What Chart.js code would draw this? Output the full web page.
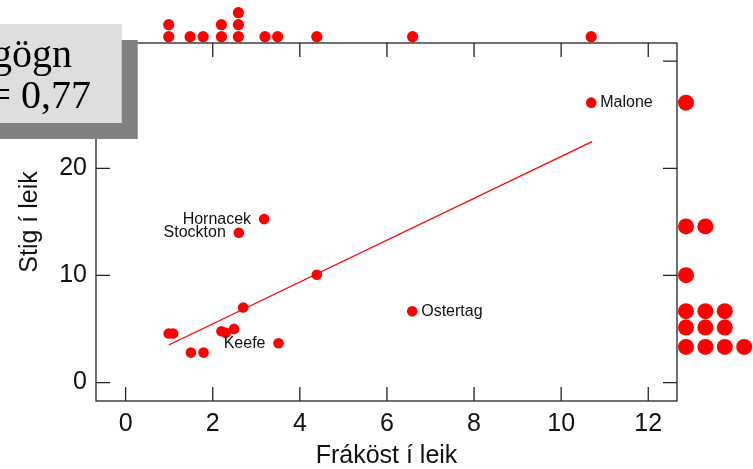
<!DOCTYPE html>
<html>
<head>
<meta charset="utf-8">
<script src="https://cdn.jsdelivr.net/npm/chart.js@4.4.0/dist/chart.umd.min.js"></script>
<style>
  html, body { margin: 0; padding: 0; background: #fff; }
  canvas { display: block; }
</style>
</head>
<body>
<canvas id="chart" width="753" height="469"></canvas>
<script>
// scatter values
const reboundsPerGame = [10.69, 3.18, 2.60, 4.39, 2.70, 6.58, 0.99, 1.09, 2.20, 2.30, 2.49, 3.51, 1.50, 1.79];
const pointsPerGame   = [26.13, 15.26, 13.98, 10.06, 7.01, 6.66, 4.58, 4.58, 4.79, 4.64, 5.01, 3.67, 2.80, 2.80];
const playerNames     = ['Malone', 'Hornacek', 'Stockton', '', '', 'Ostertag', '', '', '', '', '', 'Keefe', '', ''];
const labelOnLeft     = ['Hornacek', 'Stockton', 'Keefe'];

// regression line end points
const fitX = [0.99, 10.71];
const fitY = [3.51, 22.49];

// marginal dot plots (bins and counts)
const topDotX      = [0.99, 1.48, 1.78, 2.20, 2.59, 3.20, 3.49, 4.39, 6.59, 10.69];
const topDotCount  = [2, 1, 1, 2, 3, 1, 1, 1, 1, 1];
const sideDotY     = [26.13, 14.58, 10.03, 6.67, 5.14, 3.33];
const sideDotCount = [1, 2, 1, 3, 3, 4];

const xTicks = [0, 2, 4, 6, 8, 10, 12];
const yTicks = [0, 10, 20, 30];
const legendLines = ['gögn', '= 0,77'];

const sans = '"Liberation Sans", Arial, sans-serif';

const extras = {
    id: 'extras',
    afterDatasetsDraw(chart) {
        const ctx = chart.ctx;
        const xs = chart.scales.x;
        const ys = chart.scales.y;
        const area = chart.chartArea;
        ctx.save();

        // point names
        ctx.font = '16px ' + sans;
        ctx.fillStyle = '#111';
        ctx.textBaseline = 'middle';
        playerNames.forEach((name, i) => {
            if (!name) return;
            const px = xs.getPixelForValue(reboundsPerGame[i]);
            const py = ys.getPixelForValue(pointsPerGame[i]);
            if (labelOnLeft.includes(name)) {
                ctx.textAlign = 'right';
                ctx.fillText(name, px - 13, py);
            } else {
                ctx.textAlign = 'left';
                ctx.fillText(name, px + 9, py);
            }
        });

        // marginal dots
        ctx.fillStyle = '#ff0000';
        topDotX.forEach((v, i) => {
            const px = xs.getPixelForValue(v);
            for (let k = 0; k < topDotCount[i]; k++) {
                ctx.beginPath();
                ctx.arc(px, area.top - 6.3 - k * 12, 5.6, 0, Math.PI * 2);
                ctx.fill();
            }
        });
        sideDotY.forEach((v, i) => {
            const py = ys.getPixelForValue(v);
            for (let k = 0; k < sideDotCount[i]; k++) {
                ctx.beginPath();
                ctx.arc(area.right + 9 + k * 19.4, py, 8, 0, Math.PI * 2);
                ctx.fill();
            }
        });

        // frame with inward ticks on all four sides
        ctx.strokeStyle = '#222';
        ctx.lineWidth = 1.3;
        ctx.strokeRect(area.left, area.top, area.right - area.left, area.bottom - area.top);
        const len = 14;
        ctx.beginPath();
        xTicks.forEach(v => {
            const px = xs.getPixelForValue(v);
            ctx.moveTo(px, area.bottom); ctx.lineTo(px, area.bottom - len);
            ctx.moveTo(px, area.top); ctx.lineTo(px, area.top + len);
        });
        yTicks.forEach(v => {
            const py = ys.getPixelForValue(v);
            ctx.moveTo(area.left, py); ctx.lineTo(area.left + len, py);
            ctx.moveTo(area.right, py); ctx.lineTo(area.right - len, py);
        });
        ctx.stroke();

        // cut-off legend box with shadow
        ctx.fillStyle = '#808080';
        ctx.fillRect(-20, 40, 157.7, 99);
        ctx.fillStyle = '#dedede';
        ctx.fillRect(-20, 24, 141.7, 99);
        ctx.fillStyle = '#000';
        ctx.font = '40px "Liberation Serif", "Times New Roman", serif';
        ctx.textAlign = 'right';
        ctx.textBaseline = 'alphabetic';
        ctx.fillText(legendLines[0], 72, 67);
        ctx.fillText(legendLines[1], 91, 108);

        ctx.restore();
    }
};

function createScatter() {
    const ctx = document.getElementById('chart').getContext('2d');
    return new Chart(ctx, {
        data: {
            datasets: [{
                type: 'scatter',
                data: reboundsPerGame.map((x, i) => ({ x: x, y: pointsPerGame[i] })),
                backgroundColor: '#ff0000',
                borderWidth: 0,
                pointRadius: 5.3,
                pointHoverRadius: 5.3
            }, {
                type: 'line',
                data: fitX.map((x, i) => ({ x: x, y: fitY[i] })),
                borderColor: '#ff0000',
                borderWidth: 1.3,
                pointRadius: 0,
                fill: false
            }]
        },
        options: {
            responsive: false,
            animation: false,
            devicePixelRatio: 1,
            layout: { padding: { top: 43, right: 76, left: 0, bottom: 0 } },
            plugins: { legend: { display: false }, tooltip: { enabled: false } },
            scales: {
                x: {
                    type: 'linear',
                    position: 'bottom',
                    min: -0.68,
                    max: 12.66,
                    afterBuildTicks: s => { s.ticks = xTicks.map(v => ({ value: v })); },
                    afterFit: s => { s.height = 68; },
                    grid: { display: false, drawTicks: false },
                    border: { display: false },
                    ticks: { color: '#111', padding: 8, maxRotation: 0, font: { family: sans, size: 25 } },
                    title: {
                        display: true,
                        text: 'Fráköst í leik',
                        color: '#111',
                        padding: { top: 0, bottom: 0 },
                        font: { family: sans, size: 25, lineHeight: 1 }
                    }
                },
                y: {
                    type: 'linear',
                    position: 'left',
                    min: -1.72,
                    max: 31.7,
                    afterBuildTicks: s => { s.ticks = yTicks.map(v => ({ value: v })); },
                    afterFit: s => { s.width = 96; },
                    grid: { display: false, drawTicks: false },
                    border: { display: false },
                    ticks: { color: '#111', padding: 9, font: { family: sans, size: 25 } },
                    title: {
                        display: true,
                        text: 'Stig í leik',
                        color: '#111',
                        padding: { top: 18, bottom: 0 },
                        font: { family: sans, size: 25, lineHeight: 1 }
                    }
                }
            }
        },
        plugins: [extras]
    });
}

document.addEventListener('DOMContentLoaded', () => {
    createScatter();
});
</script>
</body>
</html>
